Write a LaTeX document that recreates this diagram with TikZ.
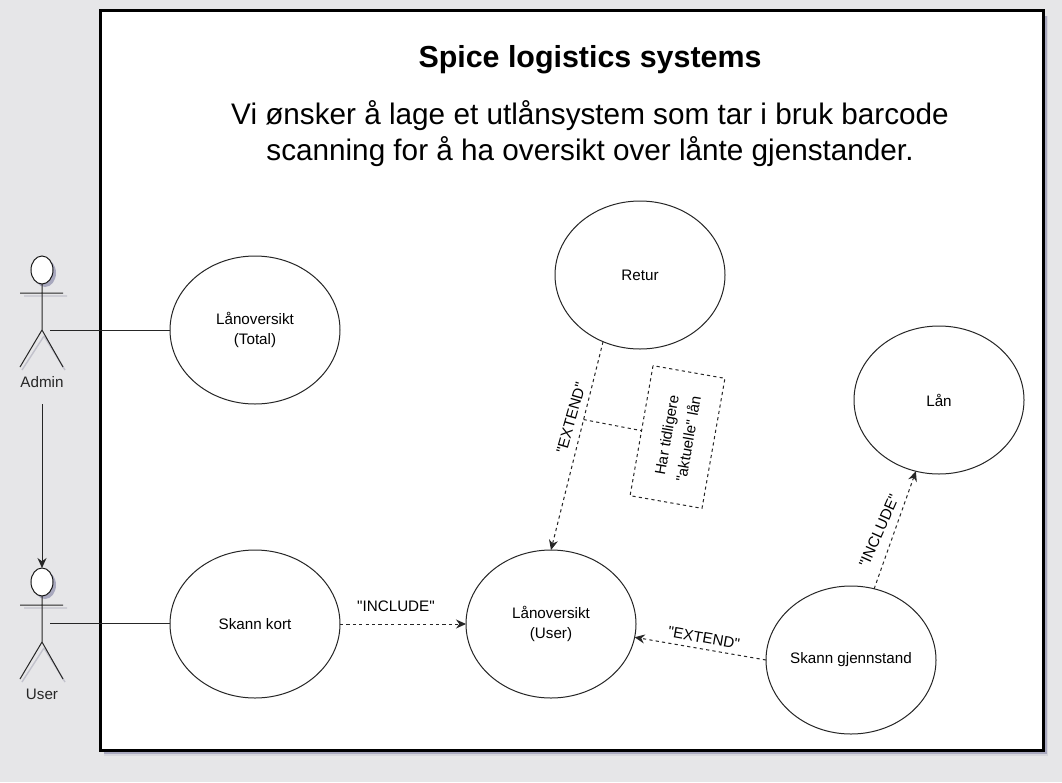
\documentclass[tikz,border=0pt]{standalone}
\usepackage{fontspec}
\setmainfont{Liberation Sans}
\newfontfamily\plainq{Liberation Sans}
\usetikzlibrary{shapes.geometric,arrows.meta}
\definecolor{bgc}{HTML}{E6E6E8}
\definecolor{shc}{HTML}{C2C2CC}
\definecolor{shd}{HTML}{A8A8BE}
\definecolor{she}{HTML}{D6D6DC}
\tikzset{
  usecase/.style={draw=black!85,line width=1pt,fill=white,ellipse,minimum width=170pt,minimum height=148pt,inner sep=0pt,outer sep=0pt,align=center,font=\fontsize{15.2}{20}\selectfont},
  line/.style={draw=black!85,line width=1pt},
  dep/.style={draw=black!85,line width=1pt,dash pattern=on 3.2pt off 3.2pt,-{Stealth[length=10pt,width=9pt]}},
  lab/.style={font=\plainq\fontsize{15.2}{20}\selectfont,inner sep=0pt},
  actorline/.style={draw=black!85,line width=1pt},
  shadowline/.style={draw=shc,line width=1.4pt},
}
\newcommand{\actor}[3]{%
  \begin{scope}[shift={(#2,#3)}]
    \fill[shd] (3,3) ellipse (11 and 14);
    \draw[shadowline] (-18,26) -- (25,26) (2,66) -- (-20,100) (2,66) -- (23,100);
    \node[draw=black!90,line width=1pt,fill=white,ellipse,minimum width=22pt,minimum height=28pt,inner sep=0pt,outer sep=0pt] (#1head) at (0,0) {};
    \coordinate (#1hip) at (0,60);
    \coordinate (#1la) at (-22,23);
    \coordinate (#1ra) at (21,23);
    \coordinate (#1ll) at (-22,97);
    \coordinate (#1rl) at (21,97);
    \draw[actorline] (#1head.south) -- (#1hip) (#1la) -- (#1ra) (#1hip) -- (#1ll) (#1hip) -- (#1rl);
  \end{scope}}
\begin{document}
\begin{tikzpicture}[x=1pt,y=-1pt]
\useasboundingbox (0,0) rectangle (1062,782);
\fill[bgc] (0,0) rectangle (1062,782);
\fill[she] (104,16) rectangle (1048,756);
\fill[shd] (104,16) rectangle (1046.5,754);
\node[draw=black,line width=3pt,fill=white,minimum width=942.5pt,minimum height=740pt,inner sep=0pt,outer sep=0pt,anchor=north west] (frame) at (100.5,10.5) {};
\node[font=\fontsize{30.4}{36}\bfseries\selectfont,inner sep=0pt] (title) at (590,60) {Spice logistics systems};
\node[font=\fontsize{29.7}{36}\selectfont,align=center,inner sep=0pt] (desc) at (590,134) {Vi ønsker å lage et utlånsystem som tar i bruk barcode\\scanning for å ha oversikt over lånte gjenstander.};

\node[usecase] (lt) at (255,330) {Lånoversikt\\(Total)};
\node[usecase] (ret) at (640,275) {Retur};
\node[usecase] (lan) at (939,400) {Lån};
\node[usecase] (sk) at (255,624) {Skann kort};
\node[usecase] (lu) at (551,624) {Lånoversikt\\(User)};
\node[usecase] (sg) at (851,660) {\makebox[0pt][c]{Skann gjennstand}};

\actor{ad}{42}{270}
\actor{us}{42}{582}
\node[lab,text=black!85] (adl) at (42,382) {Admin};
\node[lab,text=black!85] (usl) at (42,694) {User};
\coordinate (adh) at (50,330);
\coordinate (ush) at (50,623);
\coordinate (adb) at (42,404);

\draw[line] (adh) -- (lt.west);
\draw[line] (ush) -- (sk.west |- ush);
\draw[line,-{Stealth[length=10pt,width=9pt]}] (adb) -- (ushead.north);
\draw[dep] (sk.east) -- (lu.west);
\draw[dep] (ret.-119) -- coordinate[pos=.374] (exm) (lu.90);
\draw[dep] (sg.west) -- (lu.-9);
\draw[dep] (sg.72) -- (lan.-108);

\node[draw=black!85,line width=1pt,dash pattern=on 3.2pt off 3.2pt,rotate=80,minimum width=132pt,minimum height=73pt,inner sep=0pt,outer sep=0pt,align=center,font=\plainq\fontsize{15}{22}\selectfont] (note) at (677.5,437) {Har tidligere\\"aktuelle" lån};
\draw[line,dash pattern=on 3.2pt off 3.2pt] (exm) -- (note.north);

\node[lab] (l1) at (396,606) {"INCLUDE"};
\node[lab,rotate=74] (l2) at (571,418) {"EXTEND"};
\node[lab,rotate=-10] (l3) at (704,638) {"EXTEND"};
\node[lab,rotate=66] (l4) at (879,531) {"INCLUDE"};
\end{tikzpicture}
\end{document}
